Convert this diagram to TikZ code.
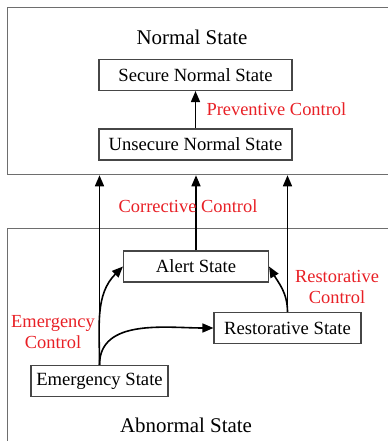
\documentclass[tikz,border=0pt]{standalone}
\usepackage{fontspec}
\setmainfont{Liberation Serif}
\usetikzlibrary{shapes,arrows.meta,positioning,calc}
\definecolor{ctrlred}{RGB}{232,32,38}
\definecolor{framegray}{RGB}{110,110,110}
\definecolor{boxgray}{RGB}{70,70,70}

\begin{document}
\begin{tikzpicture}[x=1bp, y=-1bp,
  statebox/.style={draw=boxgray, line width=1.1bp, rectangle, minimum height=31bp, inner sep=0pt, font=\fontsize{18.7}{22}\selectfont},
  frame/.style={draw=framegray, line width=1.3bp, rectangle, inner sep=0pt, anchor=north west},
  title/.style={font=\fontsize{21}{25}\selectfont},
  ctrl/.style={text=ctrlred, font=\fontsize{18.5}{21}\selectfont, align=center},
  flow/.style={-{Triangle[length=11bp,width=9bp]}, line width=1.6bp}]
\useasboundingbox (0,0) rectangle (387,441);

% 状态区域
\node[frame, minimum width=400bp, minimum height=167bp] (normal) at (7,7) {};
\node[frame, minimum width=400bp, minimum height=240bp] (abnormal) at (7,228) {};
\node[title] (normaltitle) at (192,37) {Normal State};
\node[title] (abnormaltitle) at (186,425) {Abnormal State};

% 节点
\node[statebox, minimum width=193bp] (unsecure) at (195.5,144.5) {Unsecure Normal State};
\node[statebox, minimum width=193bp, above of=unsecure, node distance=69.5bp] (secure) {Secure Normal State};
\node[statebox, minimum width=145bp] (alert) at (196,266.5) {Alert State};
\node[statebox, minimum width=147bp] (restorative) at (287.5,328) {Restorative State};
\node[statebox, minimum width=137bp] (emergency) at (99.5,381) {Emergency State};

% 控制
\draw[flow] (unsecure) -- (secure);
\draw[flow] (emergency.north) -- (emergency.north |- normal.south);
\draw[flow] (alert.north) -- (alert.north |- normal.south);
\draw[flow] (restorative.north) -- (restorative.north |- normal.south);
\draw[flow] (emergency.north) to[out=90, in=225] (alert.west);
\draw[flow] (emergency.north) to[out=90, in=180] (restorative.west);
\draw[flow] (restorative.north) to[out=90, in=-60] (alert.east);

\node[ctrl, anchor=west] (preventive) at (203,109) {Preventive Control};
\node[ctrl] (corrective) at (188,206) {Corrective Control};
\node[ctrl] (restorctrl) at (337,287) {Restorative\\Control};
\node[ctrl] (emergctrl) at (53,332) {Emergency\\Control};
\end{tikzpicture}
\end{document}
